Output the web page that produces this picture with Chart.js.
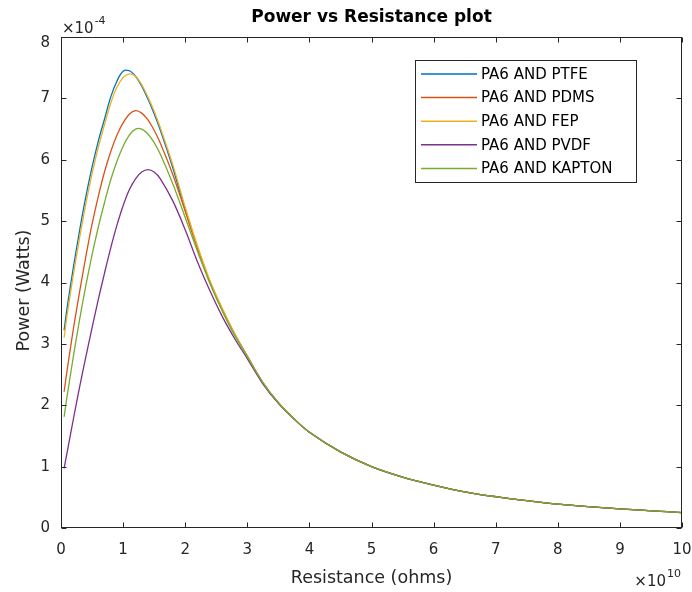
<!DOCTYPE html>
<html><head><meta charset="utf-8">
<script src="https://cdn.jsdelivr.net/npm/chart.js@4.4.1/dist/chart.umd.min.js"></script>
<style>html,body{margin:0;padding:0;background:#fff;}#wrap{width:692px;height:592px;position:relative;}</style>
</head><body><div id="wrap"><canvas id="c"></canvas></div>
<script>
// Resistance (x 10^10 ohms)
const resistance = [0.05,0.1,0.2,0.3,0.4,0.5,0.6,0.7,0.8,0.9,1.0,1.1,1.2,1.3,1.4,1.5,1.6,1.8,2.0,2.2,2.4,2.6,2.8,3.0,3.25,3.5,3.75,4.0,4.5,5.0,5.5,6.0,6.5,7.0,7.5,8.0,9.0,10.0];
// Power (x 10^-4 W)
const ptfe   = [3.22,3.60,4.25,4.85,5.40,5.88,6.30,6.66,7.02,7.28,7.44,7.45,7.36,7.20,6.99,6.75,6.48,5.87,5.18,4.56,4.00,3.55,3.15,2.80,2.37,2.04,1.78,1.56,1.24,1.00,0.83,0.70,0.59,0.51,0.445,0.39,0.31,0.25];
const pdms   = [2.22,2.58,3.25,3.85,4.42,4.95,5.40,5.80,6.13,6.40,6.60,6.74,6.80,6.76,6.65,6.48,6.27,5.76,5.16,4.56,4.01,3.56,3.15,2.80,2.37,2.04,1.78,1.56,1.24,1.00,0.83,0.70,0.59,0.51,0.445,0.39,0.31,0.25];
const fep    = [3.10,3.48,4.13,4.73,5.28,5.77,6.20,6.57,6.92,7.18,7.34,7.40,7.36,7.22,7.02,6.79,6.52,5.92,5.23,4.59,4.03,3.57,3.16,2.80,2.37,2.04,1.78,1.56,1.24,1.00,0.83,0.70,0.59,0.51,0.445,0.39,0.31,0.25];
const pvdf   = [0.97,1.24,1.78,2.30,2.79,3.26,3.72,4.15,4.56,4.93,5.25,5.51,5.69,5.80,5.84,5.80,5.69,5.33,4.86,4.33,3.86,3.44,3.08,2.76,2.35,2.03,1.78,1.56,1.24,1.00,0.83,0.70,0.59,0.51,0.445,0.39,0.31,0.25];
const kapton = [1.81,2.16,2.80,3.40,3.95,4.45,4.90,5.30,5.67,5.97,6.22,6.40,6.50,6.50,6.42,6.28,6.09,5.61,5.06,4.50,3.98,3.53,3.13,2.79,2.37,2.04,1.78,1.56,1.24,1.00,0.83,0.70,0.59,0.51,0.445,0.39,0.31,0.25];

const seriesLabels = ['PA6 AND PTFE','PA6 AND PDMS','PA6 AND FEP','PA6 AND PVDF','PA6 AND KAPTON'];
const seriesValues = [ptfe, pdms, fep, pvdf, kapton];
const seriesColors = ['#0072BD','#D95319','#EDB120','#7E2F8E','#77AC30'];
const xTickValues = [0,1,2,3,4,5,6,7,8,9,10];
const yTickValues = [0,1,2,3,4,5,6,7,8];
const titleText = 'Power vs Resistance plot';
const xTitle = 'Resistance (ohms)';
const yTitle = 'Power (Watts)';
const xExponent = '10';
const yExponent = '-4';

const FONT = "'DejaVu Sans', 'Liberation Sans', Arial, sans-serif";
const AXIS_COLOR = '#262626';

const datasets = seriesLabels.map((lab, i) => ({
  label: lab,
  data: resistance.map((r, j) => ({x: r, y: seriesValues[i][j]})),
  borderColor: seriesColors[i],
  backgroundColor: seriesColors[i],
  borderWidth: 1.3,
  pointRadius: 0,
  showLine: true,
  fill: false,
  tension: 0.35,
  order: seriesLabels.length - 1 - i
}));

const matlabAxes = {
  id: 'matlabAxes',
  beforeDraw(chart) {
    const s = chart.scales.y;
    if (s && !s.__patched) {
      const origTitle = s.drawTitle;
      s.drawTitle = function (...args) {
        this.ctx.save();
        this.ctx.translate(0, 8);
        origTitle.apply(this, args);
        this.ctx.restore();
      };
      const origItems = s._computeLabelItems;
      s._computeLabelItems = function (...args) {
        const items = origItems.apply(this, args);
        items.forEach(it => {
          if (it.label === String(yTickValues[yTickValues.length - 1]) && it.options && it.options.translation) {
            it.options.translation = [it.options.translation[0], it.options.translation[1] + 6];
          }
        });
        return items;
      };
      s._labelItems = null;
      s.__patched = true;
    }
  },
  afterDatasetsDraw(chart) {
    const {ctx, chartArea: a, scales: {x, y}} = chart;
    ctx.save();
    ctx.strokeStyle = AXIS_COLOR;
    ctx.lineWidth = 1;
    const L = Math.round(a.left) + 0.5, R = Math.round(a.right) - 0.5;
    const T = Math.round(a.top) + 0.5, B = Math.round(a.bottom) - 0.5;
    ctx.strokeRect(L, T, R - L, B - T);
    const tl = 5;
    ctx.beginPath();
    xTickValues.forEach(v => {
      const px = Math.round(x.getPixelForValue(v)) + 0.5;
      ctx.moveTo(px, B); ctx.lineTo(px, B - tl);
      ctx.moveTo(px, T); ctx.lineTo(px, T + tl);
    });
    yTickValues.forEach(v => {
      const py = Math.round(y.getPixelForValue(v)) + 0.5;
      ctx.moveTo(L, py); ctx.lineTo(L + tl, py);
      ctx.moveTo(R, py); ctx.lineTo(R - tl, py);
    });
    ctx.stroke();

    // exponent labels
    ctx.fillStyle = AXIS_COLOR;
    ctx.textBaseline = 'alphabetic';
    ctx.textAlign = 'left';
    ctx.font = '15px ' + FONT;
    const s = '\u00d710';
    const w = ctx.measureText(s).width;
    ctx.fillText(s, a.left + 1, a.top - 4);
    ctx.font = '11px ' + FONT;
    ctx.fillText(yExponent, a.left + 1 + w + 1, a.top - 13);
    ctx.font = '11px ' + FONT;
    const ws = ctx.measureText(xExponent).width;
    ctx.textAlign = 'right';
    ctx.fillText(xExponent, a.right - 1, a.bottom + 49);
    ctx.font = '15px ' + FONT;
    ctx.fillText('\u00d710', a.right - 1 - ws - 1, a.bottom + 58);

    // legend
    const lx0 = 415, ly0 = 60, lx1 = 637, ly1 = 183;
    ctx.fillStyle = '#ffffff';
    ctx.fillRect(lx0, ly0, lx1 - lx0, ly1 - ly0);
    ctx.strokeStyle = AXIS_COLOR;
    ctx.strokeRect(lx0 + 0.5, ly0 + 0.5, lx1 - lx0 - 1, ly1 - ly0 - 1);
    ctx.font = '15px ' + FONT;
    ctx.textAlign = 'left';
    ctx.textBaseline = 'middle';
    chart.data.datasets.forEach((ds, i) => {
      const ry = 74 + i * 23.6;
      ctx.strokeStyle = ds.borderColor;
      ctx.lineWidth = 1.5;
      ctx.beginPath();
      ctx.moveTo(421, ry); ctx.lineTo(477, ry);
      ctx.stroke();
      ctx.fillStyle = '#000';
      ctx.fillText(ds.label, 481, ry + 1);
    });
    ctx.restore();
  }
};

new Chart(document.getElementById('c'), {
  type: 'scatter',
  data: {datasets},
  options: {
    responsive: true,
    maintainAspectRatio: false,
    animation: false,
    layout: {padding: {top: 0, right: 10, bottom: 0, left: 0}},
    plugins: {
      legend: {display: false},
      tooltip: {enabled: false},
      title: {
        display: true, text: titleText, color: '#000', fullSize: false,
        font: {family: FONT, size: 17, weight: 'bold'},
        padding: {top: 7, bottom: 9.6}
      }
    },
    scales: {
      x: {
        type: 'linear', min: 0, max: 10,
        grid: {display: false, drawTicks: false},
        border: {display: false},
        ticks: {stepSize: 1, color: AXIS_COLOR, font: {family: FONT, size: 15}, padding: 13, maxRotation: 0, autoSkip: false},
        title: {display: true, text: xTitle, color: AXIS_COLOR, font: {family: FONT, size: 17.5}, padding: {top: 0, bottom: 3.5}},
        afterBuildTicks(scale) { scale.ticks = xTickValues.map(v => ({value: v})); },
        afterFit(scale) { scale.height = 64; scale.paddingLeft = 0; scale.paddingRight = 0; }
      },
      y: {
        type: 'linear', min: 0, max: 8,
        grid: {display: false, drawTicks: false},
        border: {display: false},
        ticks: {stepSize: 1, color: AXIS_COLOR, font: {family: FONT, size: 15}, padding: 11},
        title: {display: true, text: yTitle, color: AXIS_COLOR, font: {family: FONT, size: 17.5}, padding: {top: 13.5, bottom: 0}},
        afterBuildTicks(scale) { scale.ticks = yTickValues.map(v => ({value: v})); },
        afterFit(scale) { scale.width = 61; scale.paddingTop = 0; scale.paddingBottom = 0; }
      }
    }
  },
  plugins: [matlabAxes]
});
</script></body></html>
